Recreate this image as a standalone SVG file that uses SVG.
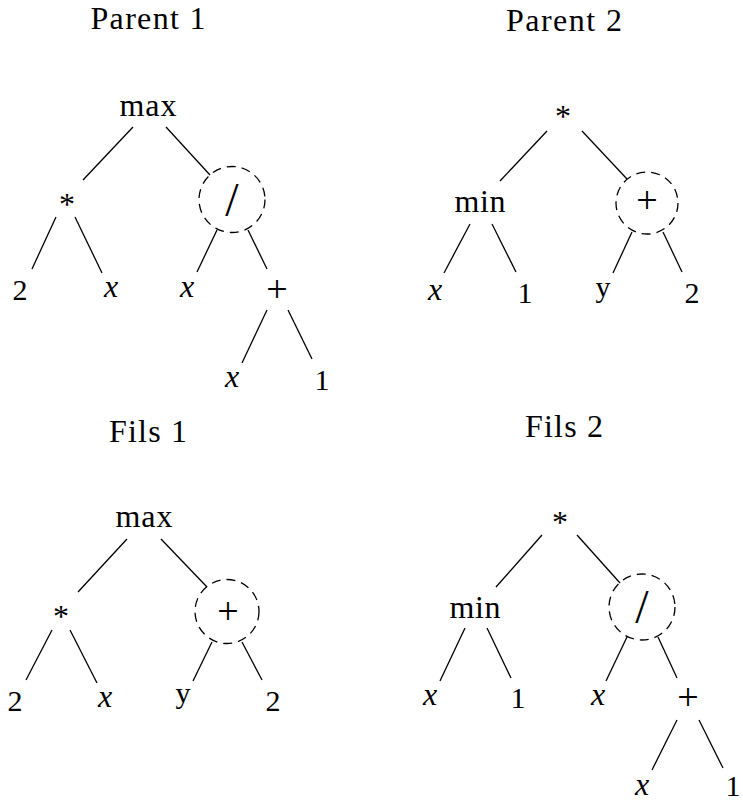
<svg xmlns="http://www.w3.org/2000/svg" width="743" height="802" viewBox="0 0 743 802">
<style>
text{font-family:'Liberation Serif','DejaVu Serif',serif;text-anchor:middle;fill:#000}
.t{font-size:30px}
.w{font-size:32px}
.v{font-size:32px;font-style:italic}
.op{font-size:38px}
.sl{font-size:48px}
.ast{font-size:32px}
.e line{stroke:#000;stroke-width:1.3}
.sel{fill:none;stroke:#000;stroke-width:1.3;stroke-dasharray:9 6}
</style>
<g id="titles">
<text class="w" x="148" y="29" textLength="115" lengthAdjust="spacing">Parent 1</text>
<text class="w" x="564" y="31" textLength="116" lengthAdjust="spacing">Parent 2</text>
<text class="w" x="148" y="442" textLength="78" lengthAdjust="spacing">Fils 1</text>
<text class="w" x="564" y="437" textLength="78" lengthAdjust="spacing">Fils 2</text>
</g>
<g id="connectors" class="e">
<line x1="133" y1="127" x2="83" y2="180"/><line x1="166" y1="127" x2="210" y2="175"/>
<line x1="56" y1="217" x2="32" y2="269"/><line x1="75" y1="217" x2="102" y2="273"/>
<line x1="217" y1="230" x2="197" y2="272"/><line x1="248" y1="230" x2="267" y2="269"/>
<line x1="267" y1="310" x2="242" y2="363"/><line x1="288" y1="310" x2="312" y2="359"/>
<line x1="547" y1="131" x2="500" y2="181"/><line x1="582" y1="131" x2="627" y2="179"/>
<line x1="470" y1="224" x2="444" y2="273"/><line x1="492" y1="224" x2="516" y2="272"/>
<line x1="632" y1="232" x2="613" y2="273"/><line x1="663" y1="232" x2="682" y2="272"/>
<line x1="127" y1="539" x2="78" y2="592"/><line x1="161" y1="539" x2="207" y2="587"/>
<line x1="52" y1="630" x2="26" y2="680"/><line x1="70" y1="630" x2="97" y2="683"/>
<line x1="212" y1="642" x2="193" y2="681"/><line x1="242" y1="642" x2="262" y2="680"/>
<line x1="542" y1="535" x2="496" y2="587"/><line x1="577" y1="535" x2="620" y2="583"/>
<line x1="465" y1="628" x2="440" y2="681"/><line x1="487" y1="628" x2="511" y2="678"/>
<line x1="627" y1="637" x2="606" y2="681"/><line x1="658" y1="637" x2="677" y2="678"/>
<line x1="677" y1="720" x2="652" y2="770"/><line x1="699" y1="720" x2="723" y2="768"/>
</g>
<!-- Parent 1 -->
<g id="p1-max"><text class="w" x="148" y="116" textLength="57" lengthAdjust="spacing">max</text></g>
<g id="p1-mul"><text class="ast" x="67" y="215">*</text></g>
<g id="p1-div"><circle class="sel" cx="232" cy="199.5" r="33"/><text class="sl" x="232" y="216">/</text></g>
<g id="p1-2"><text class="t" x="20" y="300">2</text></g>
<g id="p1-x1"><text class="v" x="111" y="297">x</text></g>
<g id="p1-x2"><text class="v" x="187" y="297">x</text></g>
<g id="p1-plus"><text class="op" x="277" y="302">+</text></g>
<g id="p1-x3"><text class="v" x="232" y="387">x</text></g>
<g id="p1-1"><text class="t" x="322" y="390">1</text></g>
<!-- Parent 2 -->
<g id="p2-mul"><text class="ast" x="563" y="127">*</text></g>
<g id="p2-min"><text class="w" x="480" y="212" textLength="51" lengthAdjust="spacing">min</text></g>
<g id="p2-plus"><circle class="sel" cx="647" cy="203" r="31"/><text class="op" x="647" y="213">+</text></g>
<g id="p2-x"><text class="v" x="435" y="300">x</text></g>
<g id="p2-1"><text class="t" x="525" y="303">1</text></g>
<g id="p2-y"><text class="t" x="603" y="297">y</text></g>
<g id="p2-2"><text class="t" x="692" y="303">2</text></g>
<!-- Fils 1 -->
<g id="f1-max"><text class="w" x="144" y="527" textLength="57" lengthAdjust="spacing">max</text></g>
<g id="f1-mul"><text class="ast" x="61" y="627">*</text></g>
<g id="f1-plus"><circle class="sel" cx="227" cy="611.5" r="32"/><text class="op" x="228" y="624">+</text></g>
<g id="f1-2"><text class="t" x="15" y="711">2</text></g>
<g id="f1-x"><text class="v" x="105" y="707">x</text></g>
<g id="f1-y"><text class="t" x="183" y="703">y</text></g>
<g id="f1-2b"><text class="t" x="273" y="711">2</text></g>
<!-- Fils 2 -->
<g id="f2-mul"><text class="ast" x="560" y="533">*</text></g>
<g id="f2-min"><text class="w" x="475" y="618" textLength="51" lengthAdjust="spacing">min</text></g>
<g id="f2-div"><circle class="sel" cx="642" cy="607" r="33"/><text class="sl" x="642" y="623">/</text></g>
<g id="f2-x1"><text class="v" x="430" y="705">x</text></g>
<g id="f2-1"><text class="t" x="518" y="708">1</text></g>
<g id="f2-x2"><text class="v" x="598" y="705">x</text></g>
<g id="f2-plus"><text class="op" x="688" y="710">+</text></g>
<g id="f2-x3"><text class="v" x="642" y="795">x</text></g>
<g id="f2-1b"><text class="t" x="733" y="796">1</text></g>
</svg>
